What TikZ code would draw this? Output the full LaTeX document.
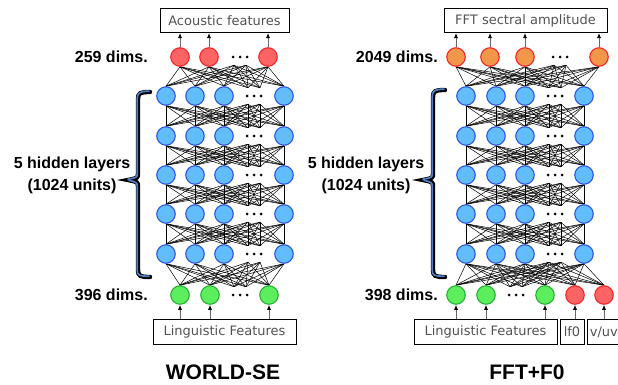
\documentclass[tikz,border=0pt]{standalone}
\usepackage{fontspec}
\setmainfont{Liberation Sans}
\newfontfamily\boxfont{DejaVu Sans}
\usetikzlibrary{arrows.meta,backgrounds}

\definecolor{hidfill}{HTML}{62BDFF}
\definecolor{hidline}{HTML}{2F56E0}
\definecolor{redfill}{HTML}{FF6464}
\definecolor{redline}{HTML}{F02828}
\definecolor{orafill}{HTML}{F2964A}
\definecolor{grnfill}{HTML}{5CEE5C}
\definecolor{grnline}{HTML}{26B038}
\definecolor{bracecol}{HTML}{4F7FC0}

\tikzset{
  neuron/.style={circle, minimum size=18.5pt, inner sep=0pt, line width=1.1pt},
  hid/.style={neuron, draw=hidline, fill=hidfill},
  outred/.style={neuron, draw=redline, fill=redfill},
  outorange/.style={neuron, draw=redline, fill=orafill},
  inpgreen/.style={neuron, draw=grnline, fill=grnfill},
  inpred/.style={neuron, draw=redline, fill=redfill},
  ghost/.style={circle, minimum size=16pt, inner sep=0pt},
  wire/.style={line width=0.5pt, black},
  feat/.style={draw, line width=0.6pt, font=\boxfont\fontsize{13}{15}\selectfont,
    text=black!68, inner sep=0pt, minimum height=24.5pt},
  feed/.style={-{Latex[length=5pt,width=4pt,color=black]}, line width=0.7pt, draw=black!60},
  dimlabel/.style={font=\bfseries\fontsize{16}{18}\selectfont, anchor=east, inner sep=0pt},
  layerlabel/.style={font=\bfseries\fontsize{16}{22}\selectfont, align=center, inner sep=0pt},
  title/.style={font=\bfseries\fontsize{21}{24}\selectfont, inner sep=0pt},
  ndots/.pic={\foreach \d in {-7,0,7} \fill (\d pt,0) circle (1.5pt);}
}

% curly bracket spanning the hidden layers
\newcommand{\layerbrace}[4]{% #1 x of spine, #2 top y, #3 bottom y, #4 tip y
  \draw[line width=4.4pt, black, line cap=round]
    (#1+12,#2) .. controls (#1+2,#2) and (#1,#2+1) .. (#1,#2+7) -- (#1,#4-7)
    .. controls (#1,#4-2) .. (#1-10,#4)
    .. controls (#1,#4+2) .. (#1,#4+7) -- (#1,#3-7)
    .. controls (#1,#3-1) and (#1+2,#3) .. (#1+12,#3);
  \draw[line width=1.7pt, bracecol, line cap=round]
    (#1+11,#2-0.8) .. controls (#1+1.5,#2-0.8) and (#1-0.8,#2+1) .. (#1-0.8,#2+7) -- (#1-0.8,#4-7)
    .. controls (#1-0.8,#4-2.5) .. (#1-10,#4-0.8);
  \draw[line width=1.7pt, bracecol, line cap=round]
    (#1-9,#4+0.2) .. controls (#1-0.8,#4+2.5) .. (#1-0.8,#4+7) -- (#1-0.8,#3-7)
    .. controls (#1-0.8,#3-1.5) and (#1+1.5,#3-0.8) .. (#1+11,#3-0.8);
}

\begin{document}
\begin{tikzpicture}[x=1pt,y=-1pt]
\useasboundingbox (0,0) rectangle (618,385);
\clip (0,0) rectangle (618,385);

% ---------------- WORLD-SE network ----------------
% hidden layers, numbered from the bottom
\foreach \l/\y in {1/254,2/214,3/175,4/136,5/96} {
  \foreach \i/\x in {1/166,2/195,3/224,4/284}
    \node[hid] (P\l-\i) at (\x,\y) {};
  \node[ghost] (P\l-a) at (248,\y) {};
  \node[ghost] (P\l-b) at (260,\y) {};
  \pic at (254,\y) {ndots};
}
% output layer
\foreach \i/\x in {1/180,2/209,3/268}
  \node[outred] (P6-\i) at (\x,57) {};
\node[ghost] (P6-a) at (234,57) {};
\node[ghost] (P6-b) at (246,57) {};
\pic at (240,57) {ndots};
% input layer
\foreach \i/\x in {1/180,2/210,3/269}
  \node[inpgreen] (P0-\i) at (\x,295) {};
\node[ghost] (P0-a) at (234,295) {};
\node[ghost] (P0-b) at (246,295) {};
\pic at (240,295) {ndots};

% full connections between neighbouring layers
\begin{scope}[on background layer]
  \foreach \l/\m/\lower/\upper in {
      0/1/{1,2,3,a,b}/{1,2,3,4,a,b},
      1/2/{1,2,3,4,a,b}/{1,2,3,4,a,b},
      2/3/{1,2,3,4,a,b}/{1,2,3,4,a,b},
      3/4/{1,2,3,4,a,b}/{1,2,3,4,a,b},
      4/5/{1,2,3,4,a,b}/{1,2,3,4,a,b},
      5/6/{1,2,3,4,a,b}/{1,2,3,a,b}} {
    \foreach \i in \lower
      \foreach \j in \upper
        \draw[wire] (P\l-\i.north) -- (P\m-\j.south);
  }
\end{scope}

% feature boxes and arrows
\node[feat, minimum width=129pt] (AF) at (224.5,20.5) {Acoustic features};
\node[feat, minimum width=143pt] (LF) at (224.5,332) {Linguistic Features};
\foreach \i in {1,2,3} {
  \draw[feed] (P6-\i.north) -- (P6-\i |- AF.south);
  \draw[feed] (P0-\i |- LF.north) -- (P0-\i.south);
}

\node[dimlabel] (Pdo) at (148,57) {259 dims.};
\node[dimlabel] (Pdi) at (148,295) {396 dims.};
\node[layerlabel] (Phl) at (72,175) {5 hidden layers\\(1024 units)};
\layerbrace{138}{92}{277}{180}
\node[title] (Ptitle) at (223,372) {WORLD-SE};

% ---------------- FFT+F0 network ----------------
\foreach \l/\y in {1/254,2/214,3/175,4/136,5/96} {
  \foreach \i/\x in {1/466,2/496,3/525,4/584}
    \node[hid] (Q\l-\i) at (\x,\y) {};
  \node[ghost] (Q\l-a) at (549,\y) {};
  \node[ghost] (Q\l-b) at (561,\y) {};
  \pic at (555,\y) {ndots};
}
\foreach \i/\x in {1/456,2/490,3/525,4/599}
  \node[outorange] (Q6-\i) at (\x,57) {};
\node[ghost] (Q6-a) at (554,57) {};
\node[ghost] (Q6-b) at (566,57) {};
\pic at (560,57) {ndots};
\foreach \i/\x in {1/456,2/486,3/545}
  \node[inpgreen] (Q0-\i) at (\x,295) {};
\foreach \i/\x in {4/575,5/604}
  \node[inpred] (Q0-\i) at (\x,295) {};
\node[ghost] (Q0-a) at (510,295) {};
\node[ghost] (Q0-b) at (522,295) {};
\pic at (516,295) {ndots};

\begin{scope}[on background layer]
  \foreach \l/\m/\lower/\upper in {
      0/1/{1,2,3,4,5,a,b}/{1,2,3,4,a,b},
      1/2/{1,2,3,4,a,b}/{1,2,3,4,a,b},
      2/3/{1,2,3,4,a,b}/{1,2,3,4,a,b},
      3/4/{1,2,3,4,a,b}/{1,2,3,4,a,b},
      4/5/{1,2,3,4,a,b}/{1,2,3,4,a,b},
      5/6/{1,2,3,4,a,b}/{1,2,3,4,a,b}} {
    \foreach \i in \lower
      \foreach \j in \upper
        \draw[wire] (Q\l-\i.north) -- (Q\m-\j.south);
  }
\end{scope}

\node[feat, minimum width=163pt] (FA) at (525.5,20.5) {FFT sectral amplitude};
\node[feat, minimum width=143pt] (LF2) at (485.5,332) {Linguistic Features};
\node[feat, minimum width=24pt] (LF0) at (572,332) {lf0};
\draw[line width=0.6pt] (587,319.75) rectangle (640,344.25);
\node[feat, draw=none, anchor=west] (VUV) at (589.5,332) {v/uv};
\foreach \i in {1,2,3,4}
  \draw[feed] (Q6-\i.north) -- (Q6-\i |- FA.south);
\foreach \i in {1,2,3}
  \draw[feed] (Q0-\i |- LF2.north) -- (Q0-\i.south);
\draw[feed] (Q0-4 |- LF0.north) -- (Q0-4.south);
\draw[feed] (Q0-5 |- LF0.north) -- (Q0-5.south);

\node[dimlabel] (Qdo) at (438,57) {2049 dims.};
\node[dimlabel] (Qdi) at (438,295) {398 dims.};
\node[layerlabel] (Qhl) at (366,175) {5 hidden layers\\(1024 units)};
\layerbrace{433}{90}{277}{180}
\node[title] (Qtitle) at (527,372) {FFT+F0};
\end{tikzpicture}
\end{document}
